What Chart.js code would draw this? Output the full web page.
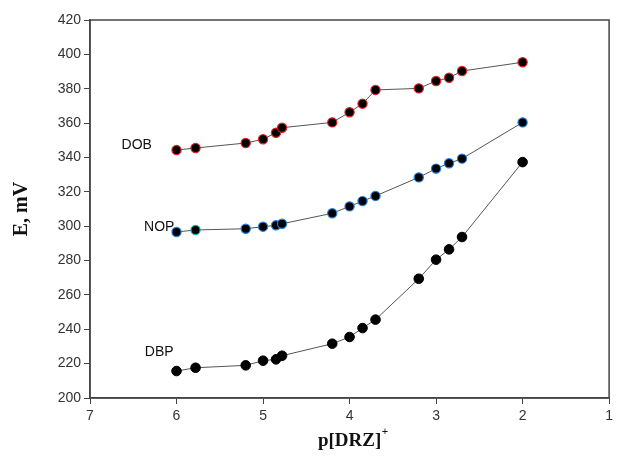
<!DOCTYPE html>
<html>
<head>
<meta charset="utf-8">
<script src="https://cdn.jsdelivr.net/npm/chart.js@4.4.0/dist/chart.umd.min.js"></script>
<style>
  html, body { margin: 0; padding: 0; background: #fff; }
  #wrap { width: 617px; height: 458px; }
</style>
</head>
<body>
<div id="wrap"><canvas id="potChart" width="617" height="458"></canvas></div>
<script>
// ---------------- Data ----------------
const pDRZ = [6.0, 5.78, 5.2, 5.0, 4.85, 4.78, 4.2, 4.0, 3.85, 3.7, 3.2, 3.0, 2.85, 2.7, 2.0];
const dobE = [344.3, 345.5, 348.4, 350.6, 354.4, 357.3, 360.4, 366.3, 371.3, 379.3, 380.2, 384.5, 386.4, 390.3, 395.4];
const nopE = [296.6, 297.8, 298.5, 299.7, 300.5, 301.4, 307.5, 311.5, 314.6, 317.6, 328.4, 333.5, 336.6, 339.3, 360.4];
const dbpE = [215.7, 217.6, 219.0, 221.7, 222.5, 224.6, 231.6, 235.5, 240.7, 245.6, 269.4, 280.5, 286.5, 293.7, 337.3];

const seriesNames = ['DOB', 'NOP', 'DBP'];
const labelX = [6.46, 6.2, 6.2];
const labelY = [347, 299.5, 226.8];

const xTitle = 'p[DRZ]';
const xTitleSup = '+';
const yTitle = 'E, mV';

const toPts = ys => pDRZ.map((x, i) => ({ x: x, y: ys[i] }));

// NOP has one point with a cyan rim in the original
const nopBorders = pDRZ.map((x, i) => i === 1 ? '#12b8b0' : '#1f7fe0');

// frame + series labels + x title with superscript
const decor = {
    id: 'decor',
    afterDraw(chart) {
        const { ctx, chartArea: a, scales } = chart;
        ctx.save();
        ctx.strokeStyle = '#444';
        ctx.lineWidth = 1.5;
        ctx.strokeRect(a.left, a.top, a.right - a.left, a.bottom - a.top);

        ctx.fillStyle = '#111';
        ctx.font = '14px "Liberation Sans", Arial, sans-serif';
        ctx.textAlign = 'center';
        ctx.textBaseline = 'middle';
        seriesNames.forEach((n, i) => {
            ctx.fillText(n, scales.x.getPixelForValue(labelX[i]), scales.y.getPixelForValue(labelY[i]));
        });

        ctx.font = 'bold 19px "Liberation Serif", "Times New Roman", serif';
        ctx.textBaseline = 'alphabetic';
        const w = ctx.measureText(xTitle).width;
        const cx = (a.left + a.right) / 2;
        ctx.textAlign = 'left';
        ctx.fillText(xTitle, cx - w / 2, 446);
        ctx.font = '11px "Liberation Sans", Arial, sans-serif';
        ctx.fillText(xTitleSup, cx + w / 2 + 0.5, 435);
        ctx.restore();
    }
};

const ctx = document.getElementById('potChart').getContext('2d');
new Chart(ctx, {
    type: 'scatter',
    data: {
        datasets: [
            { label: 'DOB', data: toPts(dobE), showLine: true, borderColor: '#555', borderWidth: 1,
              pointBackgroundColor: '#000', pointBorderColor: '#e02020', pointBorderWidth: 1.2, pointRadius: 4.6 },
            { label: 'NOP', data: toPts(nopE), showLine: true, borderColor: '#555', borderWidth: 1,
              pointBackgroundColor: '#000', pointBorderColor: nopBorders, pointBorderWidth: 1.2, pointRadius: 4.6 },
            { label: 'DBP', data: toPts(dbpE), showLine: true, borderColor: '#555', borderWidth: 1,
              pointBackgroundColor: '#000', pointBorderColor: '#000', pointBorderWidth: 1, pointRadius: 4.8 }
        ]
    },
    options: {
        responsive: false,
        animation: false,
        layout: { padding: { top: 20, right: 3, left: 0, bottom: 0 } },
        plugins: { legend: { display: false }, tooltip: { enabled: false } },
        scales: {
            x: {
                type: 'linear', min: 1, max: 7, reverse: true,
                ticks: { stepSize: 1, color: '#333', padding: 4,
                         font: { family: '"Liberation Sans", Arial, sans-serif', size: 14 } },
                grid: { drawOnChartArea: false, tickLength: 6, color: '#444' },
                border: { color: '#444', width: 1.5 },
                afterFit: s => { s.height = 60; }
            },
            y: {
                min: 200, max: 420,
                ticks: { stepSize: 20, color: '#333', padding: 3,
                         font: { family: '"Liberation Sans", Arial, sans-serif', size: 14 } },
                grid: { drawOnChartArea: false, tickLength: 6, color: '#444' },
                border: { color: '#444', width: 1.5 },
                title: { display: true, text: yTitle, color: '#111', padding: { top: 10, bottom: 0 },
                         font: { family: '"Liberation Serif", "Times New Roman", serif', size: 20, weight: 'bold' } },
                afterFit: s => { s.width = 90; }
            }
        }
    },
    plugins: [decor]
});
</script>
</body>
</html>
